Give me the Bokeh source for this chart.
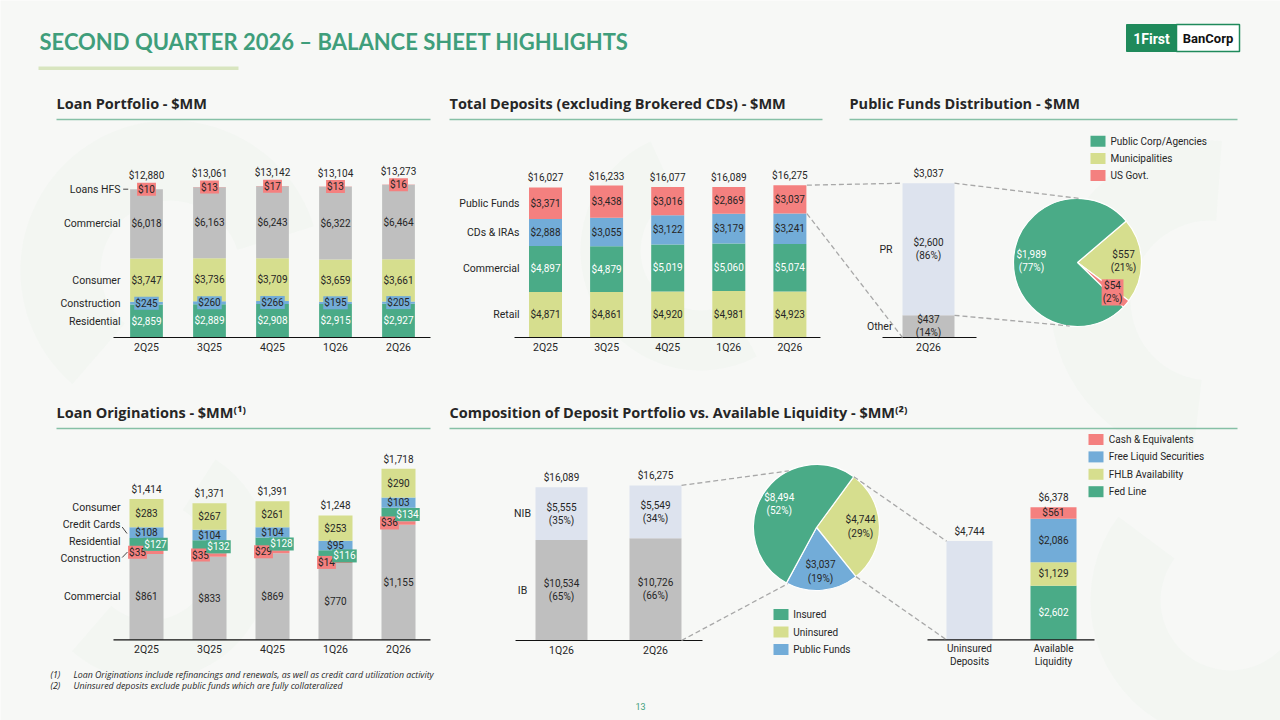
import math
from bokeh.plotting import figure
from bokeh.models import Range1d
from bokeh.core.properties import value
from bokeh.embed import file_html
from bokeh.resources import INLINE

# ---------------- data ----------------
quarters = ["2Q25", "3Q25", "4Q25", "1Q26", "2Q26"]

# Loan portfolio ($MM)
loan_residential = [2859, 2889, 2908, 2915, 2927]
loan_construction = [245, 260, 266, 195, 205]
loan_consumer = [3747, 3736, 3709, 3659, 3661]
loan_commercial = [6018, 6163, 6243, 6322, 6464]
loan_hfs = [10, 13, 17, 13, 16]
loan_total = [12880, 13061, 13142, 13104, 13273]

# Total deposits excl. brokered CDs ($MM)
dep_retail = [4871, 4861, 4920, 4981, 4923]
dep_commercial = [4897, 4879, 5019, 5060, 5074]
dep_cds = [2888, 3055, 3122, 3179, 3241]
dep_public = [3371, 3438, 3016, 2869, 3037]
dep_total = [16027, 16233, 16077, 16089, 16275]

# Public funds distribution ($MM)
pf_quarter = ["2Q26"]
pf_other = [437]
pf_other_pct = [14]
pf_pr = [2600]
pf_pr_pct = [86]
pf_total = [3037]
pf_pie_labels = ["Public Corp/Agencies", "Municipalities", "US Govt."]
pf_pie_values = [1989, 557, 54]
pf_pie_pct = [77, 21, 2]

# Loan originations ($MM)
orig_commercial = [861, 833, 869, 770, 1155]
orig_construction = [35, 35, 29, 14, 36]
orig_residential = [127, 132, 128, 116, 134]
orig_cards = [108, 104, 104, 95, 103]
orig_consumer = [283, 267, 261, 253, 290]
orig_total = [1414, 1371, 1391, 1248, 1718]

# Composition of deposits vs. liquidity ($MM)
comp_quarters = ["1Q26", "2Q26"]
comp_ib = [10534, 10726]
comp_ib_pct = [65, 66]
comp_nib = [5555, 5549]
comp_nib_pct = [35, 34]
comp_total = [16089, 16275]
dep_pie_labels = ["Insured", "Uninsured", "Public Funds"]
dep_pie_values = [8494, 4744, 3037]
dep_pie_pct = [52, 29, 19]
liq_categories = ["Uninsured\nDeposits", "Available\nLiquidity"]
liq_uninsured = [4744]
liq_labels = ["Fed Line", "FHLB Availability", "Free Liquid Securities", "Cash & Equivalents"]
liq_values = [2602, 1129, 2086, 561]
liq_total = [6378]

# ---------------- styles ----------------
W, H = 1280, 720
BG = "#f7f8f6"
GREEN = "#4aab87"
BLUE = "#72acd8"
YELLOW = "#d6de8e"
GREY = "#bfbfbf"
RED = "#f4807f"
LIGHT = "#dde3ee"
TXT = "#262626"
TITLE_C = "#3f9e7b"
RULE_C = "#86c0a6"
DASH_C = "#a8a8a8"
HF = value("Open Sans")
TF = value("Lato")
LF = value("Roboto")
DS = "10px"


def money(v):
    return "$" + format(v, ",")


p = figure(width=W, height=H, x_range=Range1d(0, W), y_range=Range1d(H, 0),
           output_backend="svg", toolbar_location=None, min_border=0,
           x_axis_location=None, y_axis_location=None)
p.grid.visible = False
p.outline_line_color = None
p.background_fill_color = BG
p.border_fill_color = BG

# faint background swirls
p.annular_wedge(x=[170, 700, 1210, 150, 1230], y=[270, 250, 300, 560, 600],
                inner_radius=[70, 60, 80, 60, 70], outer_radius=[150, 120, 160, 120, 140],
                start_angle=[0.3, 2.0, 1.5, 4.0, 2.5], end_angle=[4.0, 5.2, 4.6, 1.0, 5.8],
                fill_color="#eef3ed", fill_alpha=0.45, line_color=None)


def chart_ranges(name, cx0, dx, y0, k):
    p.extra_x_ranges[name] = Range1d(start=-cx0 / dx, end=(W - cx0) / dx)
    p.extra_y_ranges[name] = Range1d(start=(y0 - H) / k, end=y0 / k)


def stack(name, series, colors, width):
    n = len(series[0])
    cum = [0] * n
    out = []
    for s, c in zip(series, colors):
        bottom = cum[:]
        top = [b + v for b, v in zip(bottom, s)]
        p.vbar(x=list(range(n)), bottom=bottom, top=top, width=width, fill_color=c,
               line_color=None, x_range_name=name, y_range_name=name)
        out.append([(b + t) / 2 for b, t in zip(bottom, top)])
        cum = top
    return out, cum


def labels(name, xs, ys, texts, color=TXT, size=DS, bg=None, xoff=0, yoff=0,
           align="center", baseline="middle", font=LF, style="normal"):
    kw = {}
    if bg is not None:
        kw = dict(background_fill_color=bg, padding=1)
    p.text(x=xs, y=ys, text=texts, text_color=color, text_font_size=size, text_font=font,
           text_font_style=style, text_align=align, text_baseline=baseline,
           x_offset=xoff, y_offset=yoff, x_range_name=name, y_range_name=name, **kw)


def axis_line(name, x0, x1):
    p.segment(x0=[x0], y0=[0], x1=[x1], y1=[0], line_color="#111111", line_width=1.2,
              x_range_name=name, y_range_name=name)


def cat_labels(name, cats, yoff=10):
    labels(name, list(range(len(cats))), [0] * len(cats), cats, size="10.5px", yoff=yoff)


# ---------------- title & headers ----------------
p.text(x=[39], y=[41], text=["SECOND QUARTER 2026 – BALANCE SHEET HIGHLIGHTS"],
       text_font=TF, text_font_style="bold", text_font_size="22px", text_color=TITLE_C,
       text_baseline="middle")
p.quad(left=[38], right=[238], top=[66], bottom=[69.5], fill_color="#d8e5bf", line_color=None)

# logo
p.quad(left=[1126], right=[1176], top=[24], bottom=[51], fill_color="#1f8a5b", line_color="#1f8a5b")
p.quad(left=[1176], right=[1239], top=[24], bottom=[51], fill_color="white", line_color="#1f8a5b",
       line_width=1.5)
p.text(x=[1151], y=[38], text=["1First"], text_font=LF, text_font_style="bold",
       text_font_size="14px", text_color="white", text_align="center", text_baseline="middle")
p.text(x=[1207.5], y=[38], text=["BanCorp"], text_font=LF, text_font_style="bold",
       text_font_size="13px", text_color="#111111", text_align="center", text_baseline="middle")


def header(x, y, txt, x1):
    p.text(x=[x], y=[y], text=[txt], text_font=HF, text_font_style="bold", text_font_size="14.5px",
           text_color=TXT, text_baseline="middle")
    p.segment(x0=[x], y0=[y + 16.5], x1=[x1], y1=[y + 16.5], line_color=RULE_C, line_width=1.3)


header(56, 102.5, "Loan Portfolio - $MM", 430)
header(449, 102.5, "Total Deposits (excluding Brokered CDs) - $MM", 822)
header(849, 102.5, "Public Funds Distribution - $MM", 1237)
header(56, 411.5, "Loan Originations - $MM⁽¹⁾", 430)
header(449, 411.5, "Composition of Deposit Portfolio vs. Available Liquidity - $MM⁽²⁾", 1237)

# ---------------- Loan portfolio ----------------
chart_ranges("lp", 146, 63, 337, 0.01152)
lp_mids, _ = stack("lp", [loan_residential, loan_construction, loan_consumer, loan_commercial, loan_hfs],
                   [GREEN, BLUE, YELLOW, GREY, RED], 0.52)
idx = list(range(5))
labels("lp", idx, lp_mids[0], [money(v) for v in loan_residential], color="white")
labels("lp", idx, lp_mids[1], [money(v) for v in loan_construction], bg=BLUE)
labels("lp", idx, lp_mids[2], [money(v) for v in loan_consumer])
labels("lp", idx, lp_mids[3], [money(v) for v in loan_commercial])
labels("lp", idx, lp_mids[4], [money(v) for v in loan_hfs], bg=RED)
labels("lp", idx, loan_total, [money(v) for v in loan_total], baseline="bottom", yoff=-8)
axis_line("lp", -0.524, 4.508)
cat_labels("lp", quarters)
lp_names = ["Residential", "Construction", "Consumer", "Commercial", "Loans HFS"]
labels("lp", [0] * 5, [m[0] for m in lp_mids], lp_names, size="10.5px", align="right", xoff=-26)
p.segment(x0=[-0.37], y0=[lp_mids[4][0]], x1=[-0.29], y1=[lp_mids[4][0]], line_color="#444444",
          line_width=1, x_range_name="lp", y_range_name="lp")

# ---------------- Total deposits ----------------
chart_ranges("dp", 545, 61.1, 337, 0.00936)
dp_mids, dp_tops = stack("dp", [dep_retail, dep_commercial, dep_cds, dep_public],
                         [YELLOW, GREEN, BLUE, RED], 0.54)
labels("dp", idx, dp_mids[0], [money(v) for v in dep_retail])
labels("dp", idx, dp_mids[1], [money(v) for v in dep_commercial], color="white")
labels("dp", idx, dp_mids[2], [money(v) for v in dep_cds])
labels("dp", idx, dp_mids[3], [money(v) for v in dep_public])
labels("dp", idx, dep_total, [money(v) for v in dep_total], baseline="bottom", yoff=-4)
axis_line("dp", -0.507, 4.5)
cat_labels("dp", quarters)
labels("dp", [0] * 4, [m[0] for m in dp_mids], ["Retail", "Commercial", "CDs & IRAs", "Public Funds"],
       size="10.5px", align="right", xoff=-26)

# ---------------- Public funds bar ----------------
chart_ranges("pf", 928, 100, 337, 0.0508)
pf_mids, _ = stack("pf", [pf_other, pf_pr], [GREY, LIGHT], 0.52)
labels("pf", [0], pf_mids[0], [money(pf_other[0]) + "\n(" + str(pf_other_pct[0]) + "%)"])
labels("pf", [0], pf_mids[1], [money(pf_pr[0]) + "\n(" + str(pf_pr_pct[0]) + "%)"])
labels("pf", [0], pf_total, [money(pf_total[0])], baseline="bottom", yoff=-4)
labels("pf", [0, 0], [pf_mids[0][0], pf_mids[1][0]], ["Other", "PR"], size="10.5px", align="right", xoff=-36)
axis_line("pf", -0.46, 0.48)
cat_labels("pf", pf_quarter)


def pie(cx, cy, r, vals, colors, start_deg):
    total = float(sum(vals))
    cur = math.radians(start_deg)
    starts, ends, mids = [], [], []
    for v in vals:
        a = v / total * 2 * math.pi
        starts.append(cur - a)
        ends.append(cur)
        mids.append(cur - a / 2)
        cur -= a
    n = len(vals)
    p.wedge(x=[cx] * n, y=[cy] * n, radius=r, start_angle=starts, end_angle=ends,
            fill_color=colors, line_color="white", line_width=1.2)
    return starts, ends, mids


def polar(cx, cy, r, a):
    return cx + r * math.cos(a), cy - r * math.sin(a)


# pie 1 (clockwise from the top-right: Municipalities, US Govt., Public Corp/Agencies)
P1 = (1077, 262, 64)
order1 = [1, 2, 0]
p1_vals = [pf_pie_values[i] for i in order1]
p1_pct = [pf_pie_pct[i] for i in order1]
p1_cols = [YELLOW, RED, GREEN]
p1_tc = [TXT, TXT, "white"]
s1, e1, m1 = pie(P1[0], P1[1], P1[2], p1_vals, p1_cols, 40.4)
for i, v in enumerate(p1_vals):
    lx, ly = polar(P1[0], P1[1], P1[2] * 0.72, m1[i])
    kw = dict(background_fill_color=RED, padding=1) if i == 1 else {}
    p.text(x=[lx], y=[ly], text=[money(v) + "\n(" + str(p1_pct[i]) + "%)"], text_color=p1_tc[i],
           text_font=LF, text_font_size=DS, text_align="center", text_baseline="middle", **kw)

# legend pie 1
for i, (lab, col) in enumerate(zip(pf_pie_labels, [GREEN, YELLOW, RED])):
    yy = 140.7 + 17.2 * i
    p.rect(x=[1097.5], y=[yy], width=15, height=11, fill_color=col, line_color=None)
    p.text(x=[1110], y=[yy], text=[lab], text_font=LF, text_font_size="10px", text_color=TXT,
           text_baseline="middle")

# ---------------- Loan originations ----------------
chart_ranges("or", 146, 63, 639.3, 0.0996)
or_mids, _ = stack("or", [orig_commercial, orig_construction, orig_residential, orig_cards, orig_consumer],
                   [GREY, RED, GREEN, BLUE, YELLOW], 0.54)
labels("or", idx, or_mids[0], [money(v) for v in orig_commercial])
labels("or", idx, or_mids[1], [money(v) for v in orig_construction], bg=RED, xoff=-9)
labels("or", idx, or_mids[2], [money(v) for v in orig_residential], bg=GREEN, color="white", xoff=9)
labels("or", idx, or_mids[3], [money(v) for v in orig_cards])
labels("or", idx, or_mids[4], [money(v) for v in orig_consumer])
labels("or", idx, orig_total, [money(v) for v in orig_total], baseline="bottom", yoff=-4)
axis_line("or", -0.524, 4.508)
cat_labels("or", quarters)
for name, yy in zip(["Consumer", "Credit Cards", "Residential", "Construction", "Commercial"],
                    [507, 524, 541, 558, 596]):
    p.text(x=[120], y=[yy], text=[name], text_font=LF, text_font_size="10.5px", text_color=TXT,
           text_align="right", text_baseline="middle")
p.segment(x0=[121.7, 121.7], y0=[526.5, 557], x1=[126.5, 127], y1=[533, 551.5],
          line_color="#444444", line_width=1)

# ---------------- Composition ----------------
chart_ranges("cp", 561, 94, 640, 0.00953)
cp_mids, _ = stack("cp", [comp_ib, comp_nib], [GREY, LIGHT], 0.553)
labels("cp", [0, 1], cp_mids[0], [money(v) + "\n(" + str(q) + "%)" for v, q in zip(comp_ib, comp_ib_pct)])
labels("cp", [0, 1], cp_mids[1], [money(v) + "\n(" + str(q) + "%)" for v, q in zip(comp_nib, comp_nib_pct)])
labels("cp", [0, 1], comp_total, [money(v) for v in comp_total], baseline="bottom", yoff=-4)
labels("cp", [0, 0], [cp_mids[0][0], cp_mids[1][0]], ["IB", "NIB"], size="10.5px", xoff=-39)
axis_line("cp", -0.489, 1.5)
cat_labels("cp", comp_quarters)

# pie 2 (clockwise from the top-right: Uninsured, Public Funds, Insured)
P2 = (816, 527, 63)
order2 = [1, 2, 0]
pie2_vals = [dep_pie_values[i] for i in order2]
pie2_pct = [dep_pie_pct[i] for i in order2]
s2, e2, m2 = pie(P2[0], P2[1], P2[2], pie2_vals, [YELLOW, BLUE, GREEN], 53.7)
pie2_tc = [TXT, TXT, "white"]
for i, v in enumerate(pie2_vals):
    lx, ly = polar(P2[0], P2[1], P2[2] * 0.7, m2[i])
    p.text(x=[lx], y=[ly], text=[money(v) + "\n(" + str(pie2_pct[i]) + "%)"], text_color=pie2_tc[i],
           text_font=LF, text_font_size=DS, text_align="center", text_baseline="middle")
for i, (lab, col) in enumerate(zip(dep_pie_labels, [GREEN, YELLOW, BLUE])):
    yy = 614 + 17.5 * i
    p.rect(x=[780.5], y=[yy], width=15, height=11, fill_color=col, line_color=None)
    p.text(x=[792.7], y=[yy], text=[lab], text_font=LF, text_font_size="10px", text_color=TXT,
           text_baseline="middle")

# ---------------- Liquidity ----------------
chart_ranges("lq", 969, 84, 639.3, 0.0208)
p.vbar(x=[0], bottom=[0], top=liq_uninsured, width=0.548, fill_color=LIGHT, line_color=None,
       x_range_name="lq", y_range_name="lq")
cum = 0
liq_cols = [GREEN, YELLOW, BLUE, RED]
liq_tc = ["white", TXT, TXT, TXT]
for v, c, tc in zip(liq_values, liq_cols, liq_tc):
    p.vbar(x=[1], bottom=[cum], top=[cum + v], width=0.548, fill_color=c, line_color=None,
           x_range_name="lq", y_range_name="lq")
    labels("lq", [1], [cum + v / 2], [money(v)], color=tc)
    cum += v
labels("lq", [0, 1], [liq_uninsured[0], liq_total[0]], [money(liq_uninsured[0]), money(liq_total[0])],
       baseline="bottom", yoff=-4)
axis_line("lq", -0.5, 1.488)
labels("lq", [0, 1], [0, 0], liq_categories, size="10px", baseline="top", yoff=3)
for i, (lab, col) in enumerate(zip(liq_labels[::-1], liq_cols[::-1])):
    yy = 439 + 17.4 * i
    p.rect(x=[1095.5], y=[yy], width=15, height=11, fill_color=col, line_color=None)
    p.text(x=[1108.3], y=[yy], text=[lab], text_font=LF, text_font_size="10px", text_color=TXT,
           text_baseline="middle")


# ---------------- dashed connectors (pixel frame) ----------------
def dp_px(i, v):
    return 545 + 61.1 * i, 337 - 0.00936 * v


def pf_px(v):
    return 337 - 0.0508 * v


def cp_px(i, v):
    return 561 + 94 * i, 640 - 0.00953 * v


def lq_px(i, v):
    return 969 + 84 * i, 639.3 - 0.0208 * v


cx4, ytop4 = dp_px(4, dep_total[4])
_, ybot4 = dp_px(4, dep_total[4] - dep_public[4])
a1 = polar(P1[0], P1[1], P1[2], math.radians(87))
a2 = polar(P1[0], P1[1], P1[2], math.radians(-97))
b_up = polar(P2[0], P2[1], P2[2], math.radians(116))
b_dn = polar(P2[0], P2[1], P2[2], math.radians(-117))
c_up = polar(P2[0], P2[1], P2[2], e2[0])
c_dn = polar(P2[0], P2[1], P2[2], s2[0])
cpx, cpy_top = cp_px(1, comp_total[1])
_, cpy_bot = cp_px(1, 0)
ux, uy_top = lq_px(0, liq_uninsured[0])
_, uy_bot = lq_px(0, 0)
x0s = [cx4 + 17, cx4 + 17, 928 + 26, 928 + 26, cpx + 26, cpx + 26, c_up[0], c_dn[0]]
y0s = [ytop4, ybot4, pf_px(pf_total[0]), pf_px(pf_other[0]), cpy_top, cpy_bot, c_up[1], c_dn[1]]
x1s = [928 - 26, 928 - 26, a1[0], a2[0], b_up[0], b_dn[0], ux - 23, ux - 23]
y1s = [pf_px(pf_total[0]), pf_px(0), a1[1], a2[1], b_up[1], b_dn[1], uy_top, uy_bot]
p.segment(x0=x0s, y0=y0s, x1=x1s, y1=y1s, line_color=DASH_C, line_width=1.3, line_dash="5 3")

# ---------------- footnotes & page number ----------------
FN = value("Open Sans")
p.text(x=[50, 50], y=[674, 685], text=["(1)", "(2)"], text_font=FN, text_font_style="italic",
       text_font_size="8.8px", text_color=TXT, text_baseline="middle")
p.text(x=[73, 73], y=[674, 685],
       text=["Loan Originations include refinancings and renewals, as well as credit card utilization activity",
             "Uninsured deposits exclude public funds which are fully collateralized"],
       text_font=FN, text_font_style="italic", text_font_size="8.8px", text_color=TXT, text_baseline="middle")
p.text(x=[640], y=[706], text=["13"], text_font=LF, text_font_size="9px", text_color=TITLE_C,
       text_align="center", text_baseline="middle")

open("out.html", "w").write(file_html(p, INLINE))
